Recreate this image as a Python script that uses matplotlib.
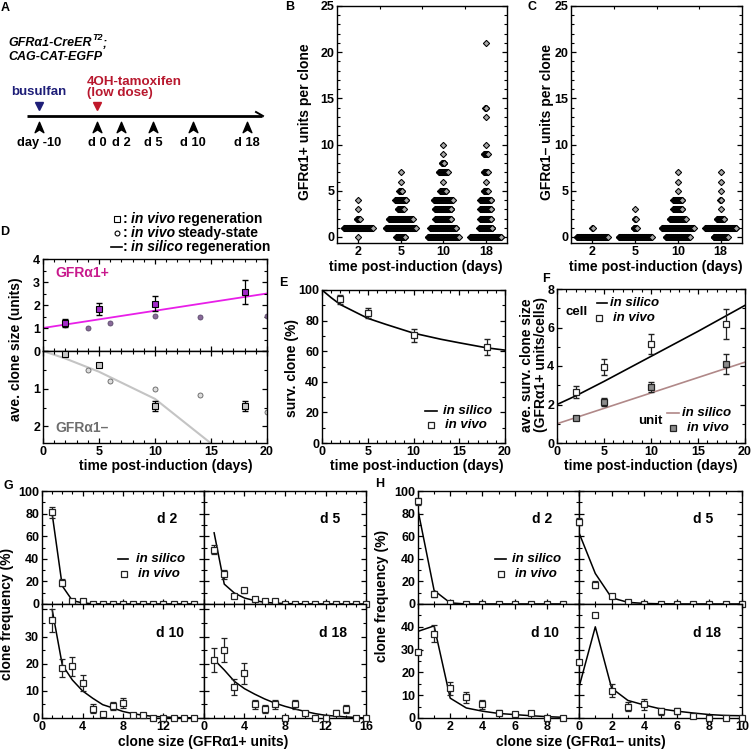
import numpy as np
import matplotlib
matplotlib.use("Agg")
import matplotlib.pyplot as plt
from matplotlib.ticker import MultipleLocator, FixedLocator, FixedFormatter, NullFormatter
from matplotlib.path import Path

# ---------------- data ----------------
A_tick_labels = ['day -10', 'd 0', 'd 2', 'd 5', 'd 10', 'd 18']

day_labels = ['2', '5', '10', '18']
B_vals = [[0, 1, 2, 3, 4],
          [0, 1, 2, 3, 4, 5, 6, 7],
          [0, 1, 2, 3, 4, 5, 6, 7, 8, 9, 10],
          [0, 1, 2, 3, 4, 5, 6, 7, 9, 10, 13, 14, 21]]
B_counts = [[1, 73, 8, 1, 1],
            [23, 75, 60, 15, 28, 8, 1, 1],
            [78, 66, 40, 42, 48, 15, 1, 23, 7, 1, 1],
            [78, 34, 28, 28, 28, 11, 1, 11, 11, 1, 1, 3, 1]]
C_vals = [[0, 1], [0, 1, 2, 3], [0, 1, 2, 3, 4, 5, 6, 7], [0, 1, 2, 3, 4, 5, 6, 7]]
C_counts = [[78, 2], [83, 9, 3, 1], [61, 81, 40, 23, 23, 1, 1, 1], [36, 78, 19, 1, 3, 1, 1, 1]]

D_days = [2, 5, 10, 18]
D_pos_vivo = [1.2, 1.82, 2.05, 2.56]
D_pos_err = [0.17, 0.25, 0.33, 0.52]
D_steady_days = [2, 4, 6, 10, 14, 20]
D_pos_steady = [1.15, 0.98, 1.22, 1.52, 1.48, 1.52]
D_neg_vivo = [0.08, 0.37, 1.46, 1.46]
D_neg_err = [0.0, 0.0, 0.13, 0.13]
D_neg_steady = [0.07, 0.5, 0.8, 1.01, 1.17, 1.62]
D_pos_silico_t = [0, 20]
D_pos_silico = [1.0, 2.5]
D_neg_silico_t = [0, 2, 5, 10, 15]
D_neg_silico = [0.0, 0.2, 0.55, 1.27, 2.45]

E_days = [2, 5, 10, 18]
E_vivo = [94, 85, 70.5, 62.5]
E_err = [3, 3, 4.2, 5.2]
E_silico_t = [0, 1, 2, 3, 5, 7, 10, 13, 15, 18, 20]
E_silico = [100, 95, 90.5, 87.5, 81.5, 77.5, 71.8, 67.8, 65.5, 62.2, 60.7]

F_days = [2, 5, 10, 18]
F_cell_vivo = [2.65, 3.95, 5.15, 6.2]
F_cell_err = [0.33, 0.42, 0.52, 0.78]
F_unit_vivo = [1.3, 2.13, 2.9, 4.1]
F_unit_err = [0.12, 0.22, 0.26, 0.52]
F_silico_t = [0, 2, 5, 10, 15, 20]
F_cell_silico = [2.0, 2.45, 3.2, 4.5, 5.8, 7.15]
F_unit_silico = [1.0, 1.32, 1.8, 2.6, 3.4, 4.2]

# Panel G (GFRa1+ units)
G_x15 = list(range(1, 16))
G_x16 = list(range(1, 17))
G_d2_vivo = [81, 19, 3, 3, 0, 0, 0, 0, 0, 0, 0, 0, 0, 0, 0]
G_d2_err = [5, 3, 1, 1, 0, 0, 0, 0, 0, 0, 0, 0, 0, 0, 0]
G_d2_silico = [80, 16, 3, 1, 0.2, 0, 0, 0, 0, 0, 0, 0, 0, 0, 0]
G_d5_vivo = [48, 26.5, 7.4, 12, 4, 2.4, 2.4, 0, 0, 0, 0, 0, 0, 0, 0, 0]
G_d5_err = [4, 4, 1.5, 2.5, 1.2, 0.7, 0.7, 0, 0, 0, 0, 0, 0, 0, 0, 0]
G_d5_silico = [63, 17.6, 9.7, 5.3, 3, 1.5, 0.8, 0.4, 0.2, 0.1, 0, 0, 0, 0, 0, 0]
G_d10_vivo = [36, 18.5, 19, 13, 3.5, 1.5, 4.5, 5.5, 1, 1, 0, 0, 0, 0, 0]
G_d10_err = [4.3, 3.3, 3.5, 3, 1.5, 0.6, 1.5, 1.8, 0.5, 0.5, 0, 0, 0, 0, 0]
G_d10_silico = [40, 19.6, 14, 10, 7.3, 4.9, 3.7, 2.4, 1.6, 1.0, 0.6, 0.4, 0.2, 0.1, 0.05]
G_d18_vivo = [21.4, 25, 11.5, 16.5, 5, 3.4, 5, 0, 5, 1.8, 0, 0, 1.8, 3.4, 0, 0]
G_d18_err = [4.3, 4.3, 3, 3.8, 1.8, 1.5, 1.8, 0, 1.8, 0.8, 0, 0, 1, 1.5, 0, 0]
G_d18_silico = [21.5, 17.7, 13.5, 10.8, 8.8, 7, 5.5, 4.3, 3.3, 2.4, 1.6, 1, 0.7, 0.4, 0.2, 0]

# Panel H (GFRa1- units)
H_x10 = list(range(0, 10))
H_x11 = list(range(0, 11))
H_d2_vivo = [91, 9, 0.5, 0, 0, 0, 0, 0, 0, 0]
H_d2_err = [3, 2.5, 0.5, 0, 0, 0, 0, 0, 0, 0]
H_d2_silico = [83, 12, 1, 0, 0, 0, 0, 0, 0, 0]
H_d5_vivo = [73, 17, 7, 1.5, 0, 0, 0, 0, 0, 0, 0]
H_d5_err = [3, 3, 1.5, 0.8, 0, 0, 0, 0, 0, 0, 0]
H_d5_silico = [63, 27, 5.5, 1.5, 0.5, 0.2, 0, 0, 0, 0, 0]
H_d10_vivo = [29, 37, 13, 9, 6, 2.3, 1.6, 2.2, 0, 0]
H_d10_err = [0, 3.6, 3, 2.5, 2, 1, 0.7, 1, 0, 0]
H_d10_silico = [38, 40.4, 8.7, 4.4, 3, 2, 1.5, 1, 0.6, 0.3]
H_d18_vivo = [24.5, 45, 12, 5, 6, 3, 3, 1, 0, 0, 0]
H_d18_err = [0, 0, 3, 2, 2.3, 1.5, 1.3, 0.5, 0, 0, 0]
H_d18_silico = [13.5, 40, 13.1, 7.7, 5.7, 4, 3, 2.2, 1.5, 1.1, 1.0]

# ---------------- style ----------------
FS = 10
TFS = 9
LFS = 9.5
plt.rcParams.update({
    'font.family': ['Liberation Sans', 'DejaVu Sans'],
    'font.weight': 'bold',
    'axes.labelweight': 'bold',
    'font.size': FS,
    'xtick.labelsize': TFS, 'ytick.labelsize': TFS,
    'axes.linewidth': 1.0,
    'xtick.direction': 'in', 'ytick.direction': 'in',
    'xtick.major.size': 3.5, 'ytick.major.size': 3.5,
    'xtick.minor.size': 2, 'ytick.minor.size': 2,
    'xtick.major.width': 0.9, 'ytick.major.width': 0.9,
    'xtick.minor.width': 0.8, 'ytick.minor.width': 0.8,
    'xtick.major.pad': 2.5, 'ytick.major.pad': 2,
    'xtick.top': True, 'ytick.right': True,
})

W, H = 752, 749
fig = plt.figure(figsize=(W / 100, H / 100), dpi=100)


def add_ax(l, t, r, b):
    return fig.add_axes([l / W, 1 - b / H, (r - l) / W, (b - t) / H])


ov = fig.add_axes([0, 0, 1, 1])
ov.set_xlim(0, W)
ov.set_ylim(H, 0)
ov.axis('off')
ov.set_zorder(10)
ov.patch.set_alpha(0)
renderer = fig.canvas.get_renderer()


def T(x, y, s, size=FS, ha='left', va='center', style='normal', color='black', rot=0):
    return ov.text(x, y, s, fontsize=size, ha=ha, va=va, fontstyle=style, color=color,
                   fontweight='bold', rotation=rot, rotation_mode='anchor' if rot else 'default')


def rich(x, y, pieces, size=FS):
    for s, style, color, gap in pieces:
        t = T(x, y, s, size=size, style=style, color=color)
        x += t.get_window_extent(renderer=renderer).width + gap
    return x


LET = 9
# ---------------- Panel A ----------------
A_tick_px = [39, 97, 121, 153, 193, 247]
T(5, 8, 'A', size=LET, ha='center')
t1 = T(8, 43, 'GFRα1-CreER', size=9, style='italic')
xe = 8 + t1.get_window_extent(renderer=renderer).width
t2 = T(xe + 0.5, 38, 'T2', size=6.5, style='italic')
xe2 = xe + 0.5 + t2.get_window_extent(renderer=renderer).width
T(xe2, 44, ';', size=9, style='italic')
T(8, 57, 'CAG-CAT-EGFP', size=9, style='italic')
ov.plot([27, 262], [116, 116], color='k', lw=2.0, solid_capstyle='butt')
ov.plot([256, 263], [112, 116], color='k', lw=1.4)
chev = Path([(0, 0.5), (0.42, -0.5), (0, -0.22), (-0.42, -0.5), (0, 0.5)],
            [Path.MOVETO, Path.LINETO, Path.LINETO, Path.LINETO, Path.CLOSEPOLY])
ov.plot(A_tick_px, [127] * len(A_tick_px), ls='none', marker=chev, ms=7.5, color='k')
for xp, lab in zip(A_tick_px, A_tick_labels):
    T(xp, 143, lab, size=9.3, ha='center')
ov.plot([39], [106], marker='v', ms=6, color='#1e1e78', ls='none')
ov.plot([97], [106], marker='v', ms=6, color='#c0182a', ls='none')
T(39, 92, 'busulfan', size=9.5, ha='center', color='#1e1e78')
T(87, 82, '4OH-tamoxifen', size=9.6, color='#b8182e')
T(87, 93, '(low dose)', size=9.6, color='#b8182e')


# ---------------- Panels B, C ----------------
def strip_panel(ax, vals_list, cnt_list, step):
    for i, (vals, cnts) in enumerate(zip(vals_list, cnt_list)):
        c = i + 0.5
        for v, n in zip(vals, cnts):
            xs = c + (np.arange(n) - (n - 1) / 2) * step
            ax.plot(xs, np.full(n, v), ls='none', marker='D', ms=3.2, mfc='#aaaaaa',
                    mec='k', mew=0.75, clip_on=False, zorder=3)
    ax.set_xlim(0, 4)
    ax.set_ylim(-0.65, 25)
    ax.set_xticks([0.5, 1.5, 2.5, 3.5])
    ax.set_xticklabels(day_labels)
    ax.xaxis.set_minor_locator(FixedLocator([1, 2, 3]))
    ax.tick_params(axis='x', which='major', top=False, bottom=True, pad=2)
    ax.tick_params(axis='x', which='minor', top=True, bottom=False)
    ax.yaxis.set_major_locator(MultipleLocator(5))
    ax.yaxis.set_minor_locator(MultipleLocator(1))


axB = add_ax(337, 6, 507, 243)
strip_panel(axB, B_vals, B_counts, 0.4 * 4 / 170)
axC = add_ax(571, 6, 742, 243)
strip_panel(axC, C_vals, C_counts, 0.4 * 4 / 171)
T(290, 7, 'B', size=LET, ha='center')
T(532, 7, 'C', size=LET, ha='center')
T(305, 122, 'GFRα1+ units per clone', rot=90, ha='center')
T(547, 122, 'GFRα1– units per clone', rot=90, ha='center')
T(416, 267, 'time post-induction (days)', ha='center')
T(656, 267, 'time post-induction (days)', ha='center')

# ---------------- Panel D ----------------
axDu = add_ax(43, 259, 267, 351)
axDl = add_ax(43, 351, 267, 443)
axDu.plot(D_pos_silico_t, D_pos_silico, color='#e81ee8', lw=1.3, zorder=1)
axDu.plot(D_steady_days, D_pos_steady, 'o', ms=3.6, mfc='#8a6a9a', mec='#5a4a6a', mew=0.6, zorder=2)
axDu.errorbar(D_days, D_pos_vivo, yerr=D_pos_err, fmt='none', ecolor='k', elinewidth=0.9, capsize=2.5, zorder=3)
axDu.plot(D_days, D_pos_vivo, 's', ms=5, mfc='#a22ac8', mec='k', mew=0.8, zorder=4)
axDu.set_xlim(0, 20)
axDu.set_ylim(0, 4)
axDu.yaxis.set_major_locator(MultipleLocator(1))
axDu.yaxis.set_minor_locator(MultipleLocator(0.5))
axDu.xaxis.set_major_locator(MultipleLocator(5))
axDu.xaxis.set_minor_locator(MultipleLocator(1))
axDu.xaxis.set_major_formatter(NullFormatter())

axDl.plot(D_neg_silico_t, D_neg_silico, color='#c4c4c4', lw=1.5, zorder=1)
axDl.plot(D_steady_days, D_neg_steady, 'o', ms=3.6, mfc='#dcdcdc', mec='#606060', mew=0.6, zorder=2)
axDl.errorbar(D_days, D_neg_vivo, yerr=D_neg_err, fmt='none', ecolor='k', elinewidth=0.9, capsize=2.5, zorder=3)
axDl.plot(D_days, D_neg_vivo, 's', ms=5, mfc='#c8c8c8', mec='k', mew=0.8, zorder=4, clip_on=False)
axDl.set_xlim(0, 20)
axDl.set_ylim(2.44, 0)
axDl.yaxis.set_major_locator(FixedLocator([0, 1, 2]))
axDl.yaxis.set_major_formatter(FixedFormatter(['', '1', '2']))
axDl.yaxis.set_minor_locator(MultipleLocator(0.5))
axDl.xaxis.set_major_locator(MultipleLocator(5))
axDl.xaxis.set_minor_locator(MultipleLocator(1))
T(55, 273, 'GFRα1+', color='#c8188c')
T(55, 428, 'GFRα1–', color='#6e6e6e')
T(5, 232, 'D', size=LET, ha='center')
T(16, 349, 'ave. clone size (units)', rot=90, ha='center')
T(166, 466, 'time post-induction (days)', ha='center')
ov.plot([117], [219], 's', ms=4.5, mfc='white', mec='k', mew=0.8)
rich(123, 219, [(':', 'normal', 'k', 3), ('in vivo', 'italic', 'k', 3), ('regeneration', 'normal', 'k', 0)])
ov.plot([117], [233], 'o', ms=3.5, mfc='white', mec='k', mew=0.8)
rich(123, 233, [(':', 'normal', 'k', 3), ('in vivo', 'italic', 'k', 3), ('steady-state', 'normal', 'k', 0)])
ov.plot([111, 122], [247, 247], color='k', lw=1.2)
rich(123, 247, [(':', 'normal', 'k', 3), ('in silico', 'italic', 'k', 3), ('regeneration', 'normal', 'k', 0)])

# ---------------- Panel E ----------------
axE = add_ax(322, 290, 505, 443)
axE.plot(E_silico_t, E_silico, color='k', lw=1.2)
axE.errorbar(E_days, E_vivo, yerr=E_err, fmt='none', ecolor='#222', elinewidth=0.9, capsize=2.5)
axE.plot(E_days, E_vivo, 's', ms=4.3, mfc='white', mec='#222', mew=0.9)
axE.set_xlim(0, 20)
axE.set_ylim(0, 100)
axE.xaxis.set_major_locator(MultipleLocator(5))
axE.xaxis.set_minor_locator(MultipleLocator(1))
axE.yaxis.set_major_locator(MultipleLocator(20))
axE.yaxis.set_minor_locator(MultipleLocator(10))
T(283, 283, 'E', size=LET, ha='center')
T(292, 368, 'surv. clone (%)', rot=90, ha='center')
T(417, 466, 'time post-induction (days)', ha='center')
ov.plot([425, 437], [411, 411], color='k', lw=1.2)
T(443, 411, 'in silico', style='italic', size=LFS)
ov.plot([431], [425], 's', ms=4.3, mfc='white', mec='#222', mew=0.9)
T(445, 425, 'in vivo', style='italic', size=LFS)

# ---------------- Panel F ----------------
axF = add_ax(557, 289, 745, 443)
axF.plot(F_silico_t, F_cell_silico, color='k', lw=1.2)
axF.plot(F_silico_t, F_unit_silico, color='#b08888', lw=1.2)
axF.errorbar(F_days, F_cell_vivo, yerr=F_cell_err, fmt='none', ecolor='#222', elinewidth=0.9, capsize=2.5)
axF.plot(F_days, F_cell_vivo, 's', ms=4.5, mfc='white', mec='#222', mew=0.9)
axF.errorbar(F_days, F_unit_vivo, yerr=F_unit_err, fmt='none', ecolor='#222', elinewidth=0.9, capsize=2.5)
axF.plot(F_days, F_unit_vivo, 's', ms=4.5, mfc='#8c8c8c', mec='#222', mew=0.9)
axF.set_xlim(0, 20)
axF.set_ylim(0, 8)
axF.xaxis.set_major_locator(MultipleLocator(5))
axF.xaxis.set_minor_locator(MultipleLocator(1))
axF.yaxis.set_major_locator(MultipleLocator(2))
axF.yaxis.set_minor_locator(MultipleLocator(1))
T(546, 279, 'F', size=LET, ha='center')
T(527, 365, 'ave. surv. clone size', rot=90, ha='center')
T(541, 365, '(GFRα1+ units/cells)', rot=90, ha='center')
T(651, 466, 'time post-induction (days)', ha='center')
T(565, 312, 'cell', size=LFS)
ov.plot([597, 607], [303, 303], color='k', lw=1.2)
T(610, 303, 'in silico', style='italic', size=LFS)
ov.plot([599], [318], 's', ms=4.3, mfc='white', mec='#222', mew=0.9)
T(613, 318, 'in vivo', style='italic', size=LFS)
T(638, 421, 'unit', size=LFS)
ov.plot([667, 679], [413, 413], color='#b08888', lw=1.2)
T(682, 413, 'in silico', style='italic', size=LFS)
ov.plot([673], [428], 's', ms=4.3, mfc='#8c8c8c', mec='#222', mew=0.9)
T(687, 428, 'in vivo', style='italic', size=LFS)


# ---------------- Panels G, H ----------------
def freq_panel(box, xs, vivo, err, silico, xlim, ylim, xmaj, ymaj, yminor,
               xlabels=None, ylabels=None):
    ax = add_ax(*box)
    ax.plot(xs, silico, color='k', lw=1.1, zorder=2)
    ax.errorbar(xs, vivo, yerr=err, fmt='none', ecolor='#222', elinewidth=0.9,
                capsize=2.3, capthick=0.9, zorder=3, clip_on=False)
    ax.plot(xs, vivo, 's', ms=4.2, mfc='white', mec='#222', mew=0.9, zorder=4, clip_on=False)
    ax.set_xlim(*xlim)
    ax.set_ylim(*ylim)
    ax.xaxis.set_major_locator(FixedLocator(xmaj))
    ax.xaxis.set_minor_locator(MultipleLocator(1))
    ax.yaxis.set_major_locator(FixedLocator(ymaj))
    ax.yaxis.set_minor_locator(MultipleLocator(yminor))
    if xlabels is None:
        ax.xaxis.set_major_formatter(NullFormatter())
    else:
        ax.xaxis.set_major_formatter(FixedFormatter(xlabels))
    if ylabels is None:
        ax.yaxis.set_major_formatter(NullFormatter())
    else:
        ax.yaxis.set_major_formatter(FixedFormatter(ylabels))
    return ax


g_top_y = [0, 20, 40, 60, 80, 100]
g_bot_y = [0, 10, 20, 30, 40]
g_x = [0, 4, 8, 12, 16]
freq_panel((42, 491, 204, 604), G_x15, G_d2_vivo, G_d2_err, G_d2_silico, (0, 16), (0, 100),
           g_x, g_top_y, 10, None, [str(v) for v in g_top_y])
freq_panel((204, 491, 366, 604), G_x16, G_d5_vivo, G_d5_err, G_d5_silico, (0, 16), (0, 100),
           g_x, g_top_y, 10)
freq_panel((42, 604, 204, 718), G_x15, G_d10_vivo, G_d10_err, G_d10_silico, (0, 16), (0, 42),
           g_x, g_bot_y, 5, ['0', '4', '8', '12', ''], ['0', '10', '20', '30', ''])
freq_panel((204, 604, 366, 718), G_x16, G_d18_vivo, G_d18_err, G_d18_silico, (0, 16), (0, 42),
           g_x, g_bot_y, 5, ['0', '4', '8', '12', '16'])

h_bot_y = [0, 10, 20, 30, 40, 50]
h_x = [0, 2, 4, 6, 8, 10]
freq_panel((418, 491, 579, 604), H_x10, H_d2_vivo, H_d2_err, H_d2_silico, (0, 10), (0, 100),
           h_x, g_top_y, 10, None, [str(v) for v in g_top_y])
freq_panel((579, 491, 742, 604), H_x11, H_d5_vivo, H_d5_err, H_d5_silico, (0, 10), (0, 100),
           h_x, g_top_y, 10)
freq_panel((418, 604, 579, 718), H_x10, H_d10_vivo, H_d10_err, H_d10_silico, (0, 10), (0, 50),
           h_x, h_bot_y, 5, ['0', '2', '4', '6', '8', ''], ['0', '10', '20', '30', '40', ''])
freq_panel((579, 604, 742, 718), H_x11, H_d18_vivo, H_d18_err, H_d18_silico, (0, 10), (0, 50),
           h_x, h_bot_y, 5, ['0', '2', '4', '6', '8', '10'])

T(8, 486, 'G', size=LET, ha='center')
T(380, 484, 'H', size=LET, ha='center')
T(7, 614, 'clone frequency (%)', rot=90, ha='center')
T(382, 596, 'clone frequency (%)', rot=90, ha='center')
T(203, 742, 'clone size (GFRα1+ units)', ha='center')
T(581, 742, 'clone size (GFRα1– units)', ha='center')
for (x, y, s) in [(167, 519, 'd 2'), (330, 519, 'd 5'), (170, 633, 'd 10'), (333, 633, 'd 18'),
                  (542, 519, 'd 2'), (703, 519, 'd 5'), (545, 633, 'd 10'), (707, 633, 'd 18')]:
    T(x, y, s, ha='center')
ov.plot([118, 128], [559, 559], color='k', lw=1.2)
T(136, 559, 'in silico', style='italic', size=LFS)
ov.plot([124], [574], 's', ms=4.2, mfc='white', mec='#222', mew=0.9)
T(138, 574, 'in vivo', style='italic', size=LFS)
ov.plot([495, 506], [559, 559], color='k', lw=1.2)
T(512, 559, 'in silico', style='italic', size=LFS)
ov.plot([501], [574], 's', ms=4.2, mfc='white', mec='#222', mew=0.9)
T(515, 574, 'in vivo', style='italic', size=LFS)

fig.savefig('out.png', dpi=100)
